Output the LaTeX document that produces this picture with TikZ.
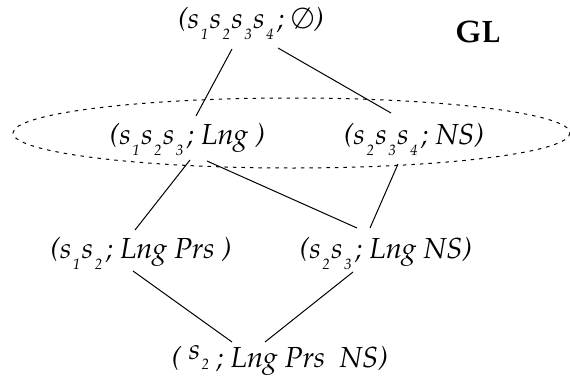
\documentclass[tikz,border=0pt]{standalone}
\usepackage[T1]{fontenc}
\usepackage{mathpazo}
\newcommand\sbx[1]{\kern1.5pt\raisebox{-11pt}{\fontsize{15}{15}\selectfont #1}\kern1.5pt}
\begin{document}
\begin{tikzpicture}[x=1pt,y=-1pt,
  lbl/.style={inner sep=0pt,anchor=base,font=\fontsize{29}{34}\selectfont\itshape},
  conn/.style={line width=1pt}]
\useasboundingbox (0,0) rectangle (570,383);
\node[lbl] (top) at (251,28) {(s\sbx1s\sbx2s\sbx3s\sbx4\kern2pt; \ensuremath{\emptyset})};
\node[inner sep=0pt,anchor=base,font=\fontsize{31}{36}\selectfont\bfseries] (gl) at (478,42) {GL};
\node[lbl] (l1) at (187.5,144) {(s\sbx1s\sbx2s\sbx3\kern2pt; Lng )};
\node[lbl] (r1) at (414,144) {(s\sbx2s\sbx3s\sbx4\kern2pt; NS)};
\node[lbl] (l2) at (141,258) {(s\sbx1s\sbx2\kern2pt; Lng Prs )};
\node[lbl] (r2) at (386,258) {(s\sbx2s\sbx3\kern2pt; Lng NS)};
\node[lbl] (b) at (280,367) {( \raisebox{8pt}{s}\kern1.5pt\raisebox{-2pt}{\fontsize{15}{15}\selectfont 2} ; Lng Prs\ \ NS)};
\draw[dash pattern=on 3.5pt off 5pt,line width=1pt] (291.5,133) ellipse [x radius=278.5, y radius=35];
\draw[conn] ([shift={(-19,21)}]top.base) -- ([shift={(8.5,-28)}]l1.base);
\draw[conn] ([shift={(27,20)}]top.base) -- ([shift={(-23,-31)}]r1.base);
\draw[conn] ([shift={(2.5,16)}]l1.base) -- ([shift={(-6,-28)}]l2.base);
\draw[conn] ([shift={(19.5,17)}]l1.base) -- ([shift={(-29,-30)}]r2.base);
\draw[conn] ([shift={(-16,20)}]r1.base) -- ([shift={(-16,-30)}]r2.base);
\draw[conn] ([shift={(-8,13)}]l2.base) -- ([shift={(-48,-25)}]b.base);
\draw[conn] ([shift={(-33,14)}]r2.base) -- ([shift={(-15,-25)}]b.base);
\end{tikzpicture}
\end{document}
